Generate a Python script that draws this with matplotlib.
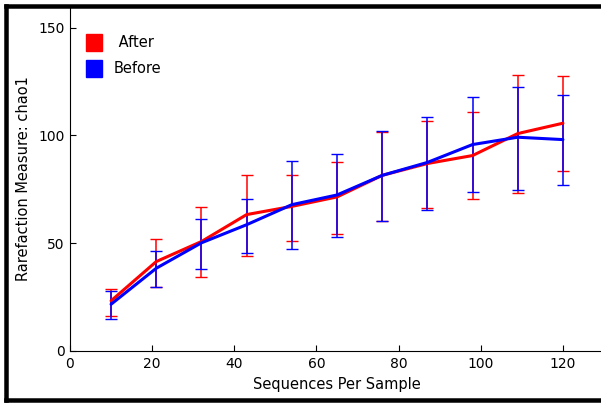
import matplotlib
matplotlib.use("Agg")
import matplotlib.pyplot as plt
from matplotlib.patches import Patch
from matplotlib.lines import Line2D
import numpy as np

seqs = [10, 21, 32, 43, 54, 65, 76, 87, 98, 109, 120]

after_mean = [23.3, 41.5, 50.8, 63.3, 67.1, 71.5, 81.5, 87.0, 90.7, 100.9, 105.7]
after_low = [16.4, 29.6, 34.3, 44.2, 51.2, 54.3, 60.2, 66.4, 70.6, 73.3, 83.3]
after_high = [28.8, 52.1, 66.8, 81.9, 81.9, 87.8, 101.8, 106.5, 110.9, 128.1, 127.6]

before_mean = [21.7, 38.4, 50.2, 58.6, 67.9, 72.4, 81.5, 87.5, 95.8, 99.2, 98.1]
before_low = [15.0, 29.8, 38.1, 45.4, 47.3, 52.7, 60.2, 65.6, 73.6, 74.6, 76.9]
before_high = [28.0, 46.2, 61.2, 70.5, 88.1, 91.5, 102.0, 108.7, 117.8, 122.6, 118.9]

labels = [" After", "Before"]
colors = ["#ff0000", "#0000ff"]

W, H = 601, 403
fig = plt.figure(figsize=(W / 100, H / 100), dpi=100)
left = 70 / W
bottom = 1 - 351 / H
ax = fig.add_axes([left, bottom, 534 / W, 344.8 / H])

series = [(after_mean, after_low, after_high), (before_mean, before_low, before_high)]
for (m, lo, hi), c in zip(series, colors):
    m = np.array(m); lo = np.array(lo); hi = np.array(hi)
    cont = ax.errorbar(seqs, m, yerr=[m - lo, hi - m], fmt='none', ecolor=c,
                       elinewidth=1.1, capsize=4.5, capthick=1.0)
    for col in cont[2]:
        col.set_snap(True)
for (m, lo, hi), c in zip(series, colors):
    ax.plot(seqs, m, color=c, lw=2.2, solid_capstyle='round')

ax.set_xlim(0, 130)
ax.set_ylim(0, 160)
ax.set_xticks([0, 20, 40, 60, 80, 100, 120])
ax.set_yticks([0, 50, 100, 150])
ax.tick_params(direction='in', length=4, labelsize=10, top=False, right=False, pad=4)
for s in ['top', 'right']:
    ax.spines[s].set_visible(False)
ax.set_xlabel("Sequences Per Sample", fontsize=10.5, labelpad=5)
ax.set_ylabel("Rarefaction Measure: chao1", fontsize=10.5, labelpad=5)

handles = [Patch(facecolor=c, edgecolor=c) for c in colors]
ax.legend(handles, labels, loc='upper left', bbox_to_anchor=(0.01, 0.95),
          frameon=False, fontsize=10.5, handlelength=1.15, handleheight=1.45,
          handletextpad=0.8, labelspacing=0.6, borderpad=0.2)

lw = 4.5 * 72 / 100
fig.add_artist(Line2D([5.5 / W, 5.5 / W], [1 - 6 / H, 1 - 400 / H], color='black', lw=lw, transform=fig.transFigure, solid_capstyle='projecting'))
fig.add_artist(Line2D([5.5 / W, 1.01], [1 - 6 / H, 1 - 6 / H], color='black', lw=lw, transform=fig.transFigure, solid_capstyle='projecting'))
fig.add_artist(Line2D([5.5 / W, 1.01], [1 - 400 / H, 1 - 400 / H], color='black', lw=lw, transform=fig.transFigure, solid_capstyle='projecting'))

fig.savefig("out.png", dpi=100)
